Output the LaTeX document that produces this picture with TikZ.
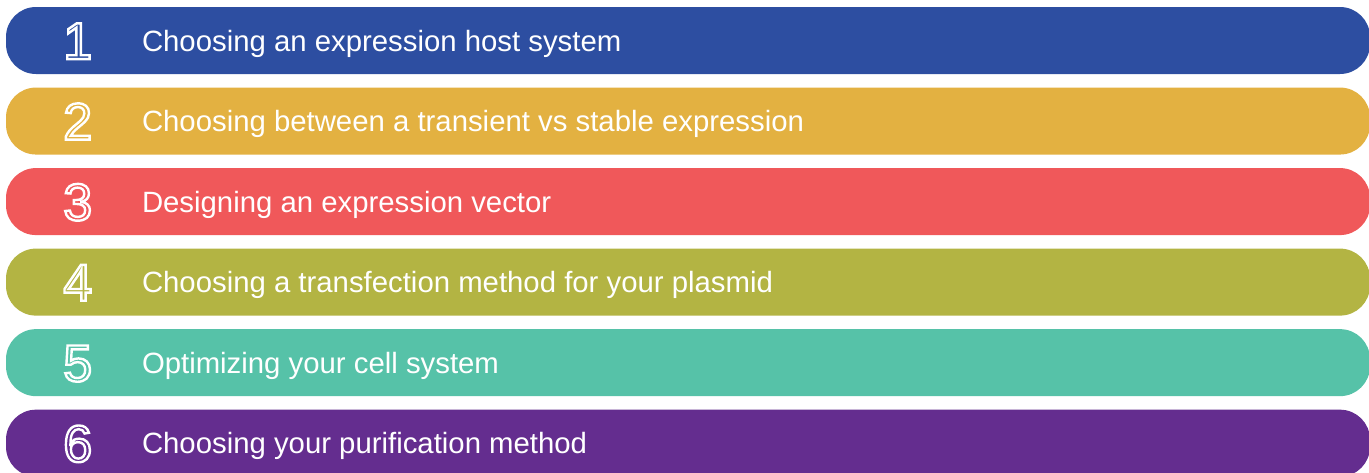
\documentclass[tikz,border=0pt]{standalone}
\usepackage{fontspec}
\setmainfont{Liberation Sans}
\usepackage{tikz}
\usetikzlibrary{positioning}
\definecolor{hostblue}{HTML}{2D4EA1}
\definecolor{transyellow}{HTML}{E3B141}
\definecolor{vectorred}{HTML}{F0585A}
\definecolor{methodolive}{HTML}{B3B443}
\definecolor{cellteal}{HTML}{56C2A8}
\definecolor{purifypurple}{HTML}{642D8F}
% hollow digits: stroke only, no fill
\newcommand{\hollow}[1]{\special{pdf:literal direct 1 Tr 1.8 w}#1\special{pdf:literal direct 0 Tr}}

\begin{document}
\begin{tikzpicture}[
    x=0.75pt, y=-0.75pt,
    node distance=9.75pt,
    bar/.style={
        rectangle,
        rounded corners=22.5pt,
        minimum width=1023pt,
        minimum height=50.25pt,
        inner sep=0pt
    },
    stepnum/.style={
        text=white,
        font=\fontsize{39}{42}\selectfont,
        text height=27.9pt,
        text depth=0pt,
        inner sep=0pt
    },
    steptext/.style={
        anchor=west,
        text=white,
        font=\fontsize{22}{26}\selectfont,
        text height=15.75pt,
        text depth=0pt,
        inner sep=0pt
    }
]
\useasboundingbox (0,0) rectangle (1369,472);

\node[bar, fill=hostblue] (bar1) at (688,40.5) {};
\node[bar, fill=transyellow, below=of bar1] (bar2) {};
\node[bar, fill=vectorred, below=of bar2] (bar3) {};
\node[bar, fill=methodolive, below=of bar3] (bar4) {};
\node[bar, fill=cellteal, below=of bar4] (bar5) {};
\node[bar, fill=purifypurple, below=of bar5] (bar6) {};

\node[stepnum] (num1) at ([xshift=54pt]bar1.west) {\hollow{1}};
\node[stepnum] (num2) at ([xshift=54pt]bar2.west) {\hollow{2}};
\node[stepnum] (num3) at ([xshift=54pt]bar3.west) {\hollow{3}};
\node[stepnum] (num4) at ([xshift=54pt]bar4.west) {\hollow{4}};
\node[stepnum] (num5) at ([xshift=54pt]bar5.west) {\hollow{5}};
\node[stepnum] (num6) at ([xshift=54pt]bar6.west) {\hollow{6}};

\node[steptext] (text1) at ([xshift=102pt]bar1.west) {Choosing an expression host system};
\node[steptext] (text2) at ([xshift=102pt]bar2.west) {Choosing between a transient vs stable expression};
\node[steptext] (text3) at ([xshift=102pt]bar3.west) {Designing an expression vector};
\node[steptext] (text4) at ([xshift=102pt]bar4.west) {Choosing a transfection method for your plasmid};
\node[steptext] (text5) at ([xshift=102pt]bar5.west) {Optimizing your cell system};
\node[steptext] (text6) at ([xshift=102pt]bar6.west) {Choosing your purification method};

\end{tikzpicture}
\end{document}
